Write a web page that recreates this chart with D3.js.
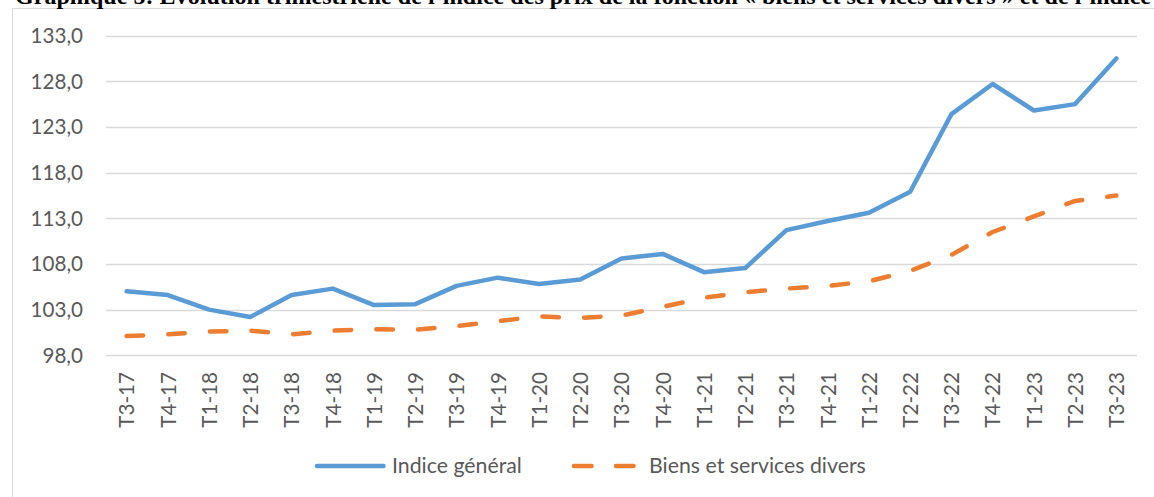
<html>

<head>
  <title>indice des prix</title>
  <meta charset="utf-8">
</head>
<style>
  body {
    padding: 0em;
    margin: 0em;
    background-color: #fff;
    overflow: hidden;
  }
</style>

<body>
  <div id="chart"></div>
</body>

<script src="https://cdn.jsdelivr.net/npm/d3@7"></script>
<script>
  // trimestres
  const categories = ["T3-17", "T4-17", "T1-18", "T2-18", "T3-18", "T4-18", "T1-19", "T2-19", "T3-19",
    "T4-19", "T1-20", "T2-20", "T3-20", "T4-20", "T1-21", "T2-21", "T3-21", "T4-21", "T1-22",
    "T2-22", "T3-22", "T4-22", "T1-23", "T2-23", "T3-23"]

  // Indice général
  const indiceGeneral = [105.0, 104.6, 103.0, 102.2, 104.6, 105.3, 103.5, 103.6, 105.6,
    106.5, 105.8, 106.3, 108.6, 109.1, 107.1, 107.55, 111.7, 112.7, 113.6,
    115.9, 124.4, 127.7, 124.8, 125.5, 130.5]

  // Biens et services divers
  const biensServices = [100.1, 100.3, 100.6, 100.7, 100.3, 100.7, 100.85, 100.8, 101.2,
    101.75, 102.25, 102.1, 102.35, 103.3, 104.3, 104.9, 105.3, 105.6, 106.1,
    107.25, 109.0, 111.5, 113.2, 114.9, 115.5]

  const yTicks = [98, 103, 108, 113, 118, 123, 128, 133]

  const seriesNames = ["Indice général", "Biens et services divers"]

  const titre = "Graphique 5: Evolution trimestrielle de l’indice des prix de la fonction « biens et services divers » et de l’indice"

  main()

  function main() {
    const width = 1154
    const height = 497
    const svg = d3.select("#chart").append("svg")
      .attr("width", width)
      .attr("height", height)

    const blue = "#5B9BD5"
    const orange = "#ED7D31"
    const grey = "#595959"
    const font = "Lato, 'Open Sans', sans-serif"

    //cadre du graphique
    svg.append("rect")
      .attr("x", 12.5).attr("y", 8.5)
      .attr("width", 1160).attr("height", 510)
      .attr("fill", "#fff")
      .attr("stroke", "#D9D9D9")
      .attr("stroke-width", 1)

    //titre coupé en haut (comme dans l'original)
    svg.append("text")
      .attr("x", 15).attr("y", 3.5)
      .attr("font-family", "'Liberation Serif', serif")
      .attr("font-weight", "bold")
      .attr("font-size", 24)
      .attr("textLength", 1136)
      .attr("lengthAdjust", "spacing")
      .attr("fill", "#000")
      .text(titre)

    const x = d3.scaleBand()
      .domain(categories)
      .range([106, 1137])
      .padding(0)

    const y = d3.scaleLinear()
      .domain([98, 133])
      .range([355.3, 35.6])

    const cx = (d) => x(d) + x.bandwidth() / 2

    //grille
    svg.append("g").selectAll("line").data(yTicks).join("line")
      .attr("x1", 106).attr("x2", 1137)
      .attr("y1", d => Math.round(y(d)) + 0.5)
      .attr("y2", d => Math.round(y(d)) + 0.5)
      .attr("stroke", "#D9D9D9")
      .attr("stroke-width", 1.3)

    //axe y
    svg.append("g").selectAll("text").data(yTicks).join("text")
      .attr("x", 83)
      .attr("y", d => y(d))
      .attr("dy", "0.36em")
      .attr("text-anchor", "end")
      .attr("font-family", font)
      .attr("font-size", 20.6)
      .attr("fill", grey)
      .text(d => d3.format(".1f")(d).replace(".", ","))

    //axe x
    svg.append("g").selectAll("text").data(categories).join("text")
      .attr("transform", d => `translate(${cx(d) + 7.8},372) rotate(-90)`)
      .attr("text-anchor", "end")
      .attr("font-family", font)
      .attr("font-size", 20.6)
      .attr("fill", grey)
      .text(d => d)

    const line = d3.line()
      .x((d, i) => cx(categories[i]))
      .y(d => y(d))

    svg.append("path")
      .datum(biensServices)
      .attr("d", line)
      .attr("fill", "none")
      .attr("stroke", orange)
      .attr("stroke-width", 4.5)
      .attr("stroke-linecap", "round")
      .attr("stroke-linejoin", "round")
      .attr("stroke-dasharray", "16.5,25.2")

    svg.append("path")
      .datum(indiceGeneral)
      .attr("d", line)
      .attr("fill", "none")
      .attr("stroke", blue)
      .attr("stroke-width", 4.5)
      .attr("stroke-linecap", "round")
      .attr("stroke-linejoin", "round")

    //légende
    const leg = [
      { name: seriesNames[0], color: blue, dash: null, x0: 317, x1: 383.5, tx: 392 },
      { name: seriesNames[1], color: orange, dash: "17.5,24.5", x0: 574, x1: 634, tx: 649 }
    ]
    const lg = svg.append("g").selectAll("g").data(leg).join("g")
    lg.append("line")
      .attr("x1", d => d.x0).attr("x2", d => d.x1)
      .attr("y1", 466).attr("y2", 466)
      .attr("stroke", d => d.color)
      .attr("stroke-width", 4.5)
      .attr("stroke-linecap", "round")
      .attr("stroke-dasharray", d => d.dash)
    lg.append("text")
      .attr("x", d => d.tx)
      .attr("y", 472.7)
      .attr("font-family", font)
      .attr("font-size", 21.3)
      .attr("fill", grey)
      .text(d => d.name)
  }
</script>

</html>
